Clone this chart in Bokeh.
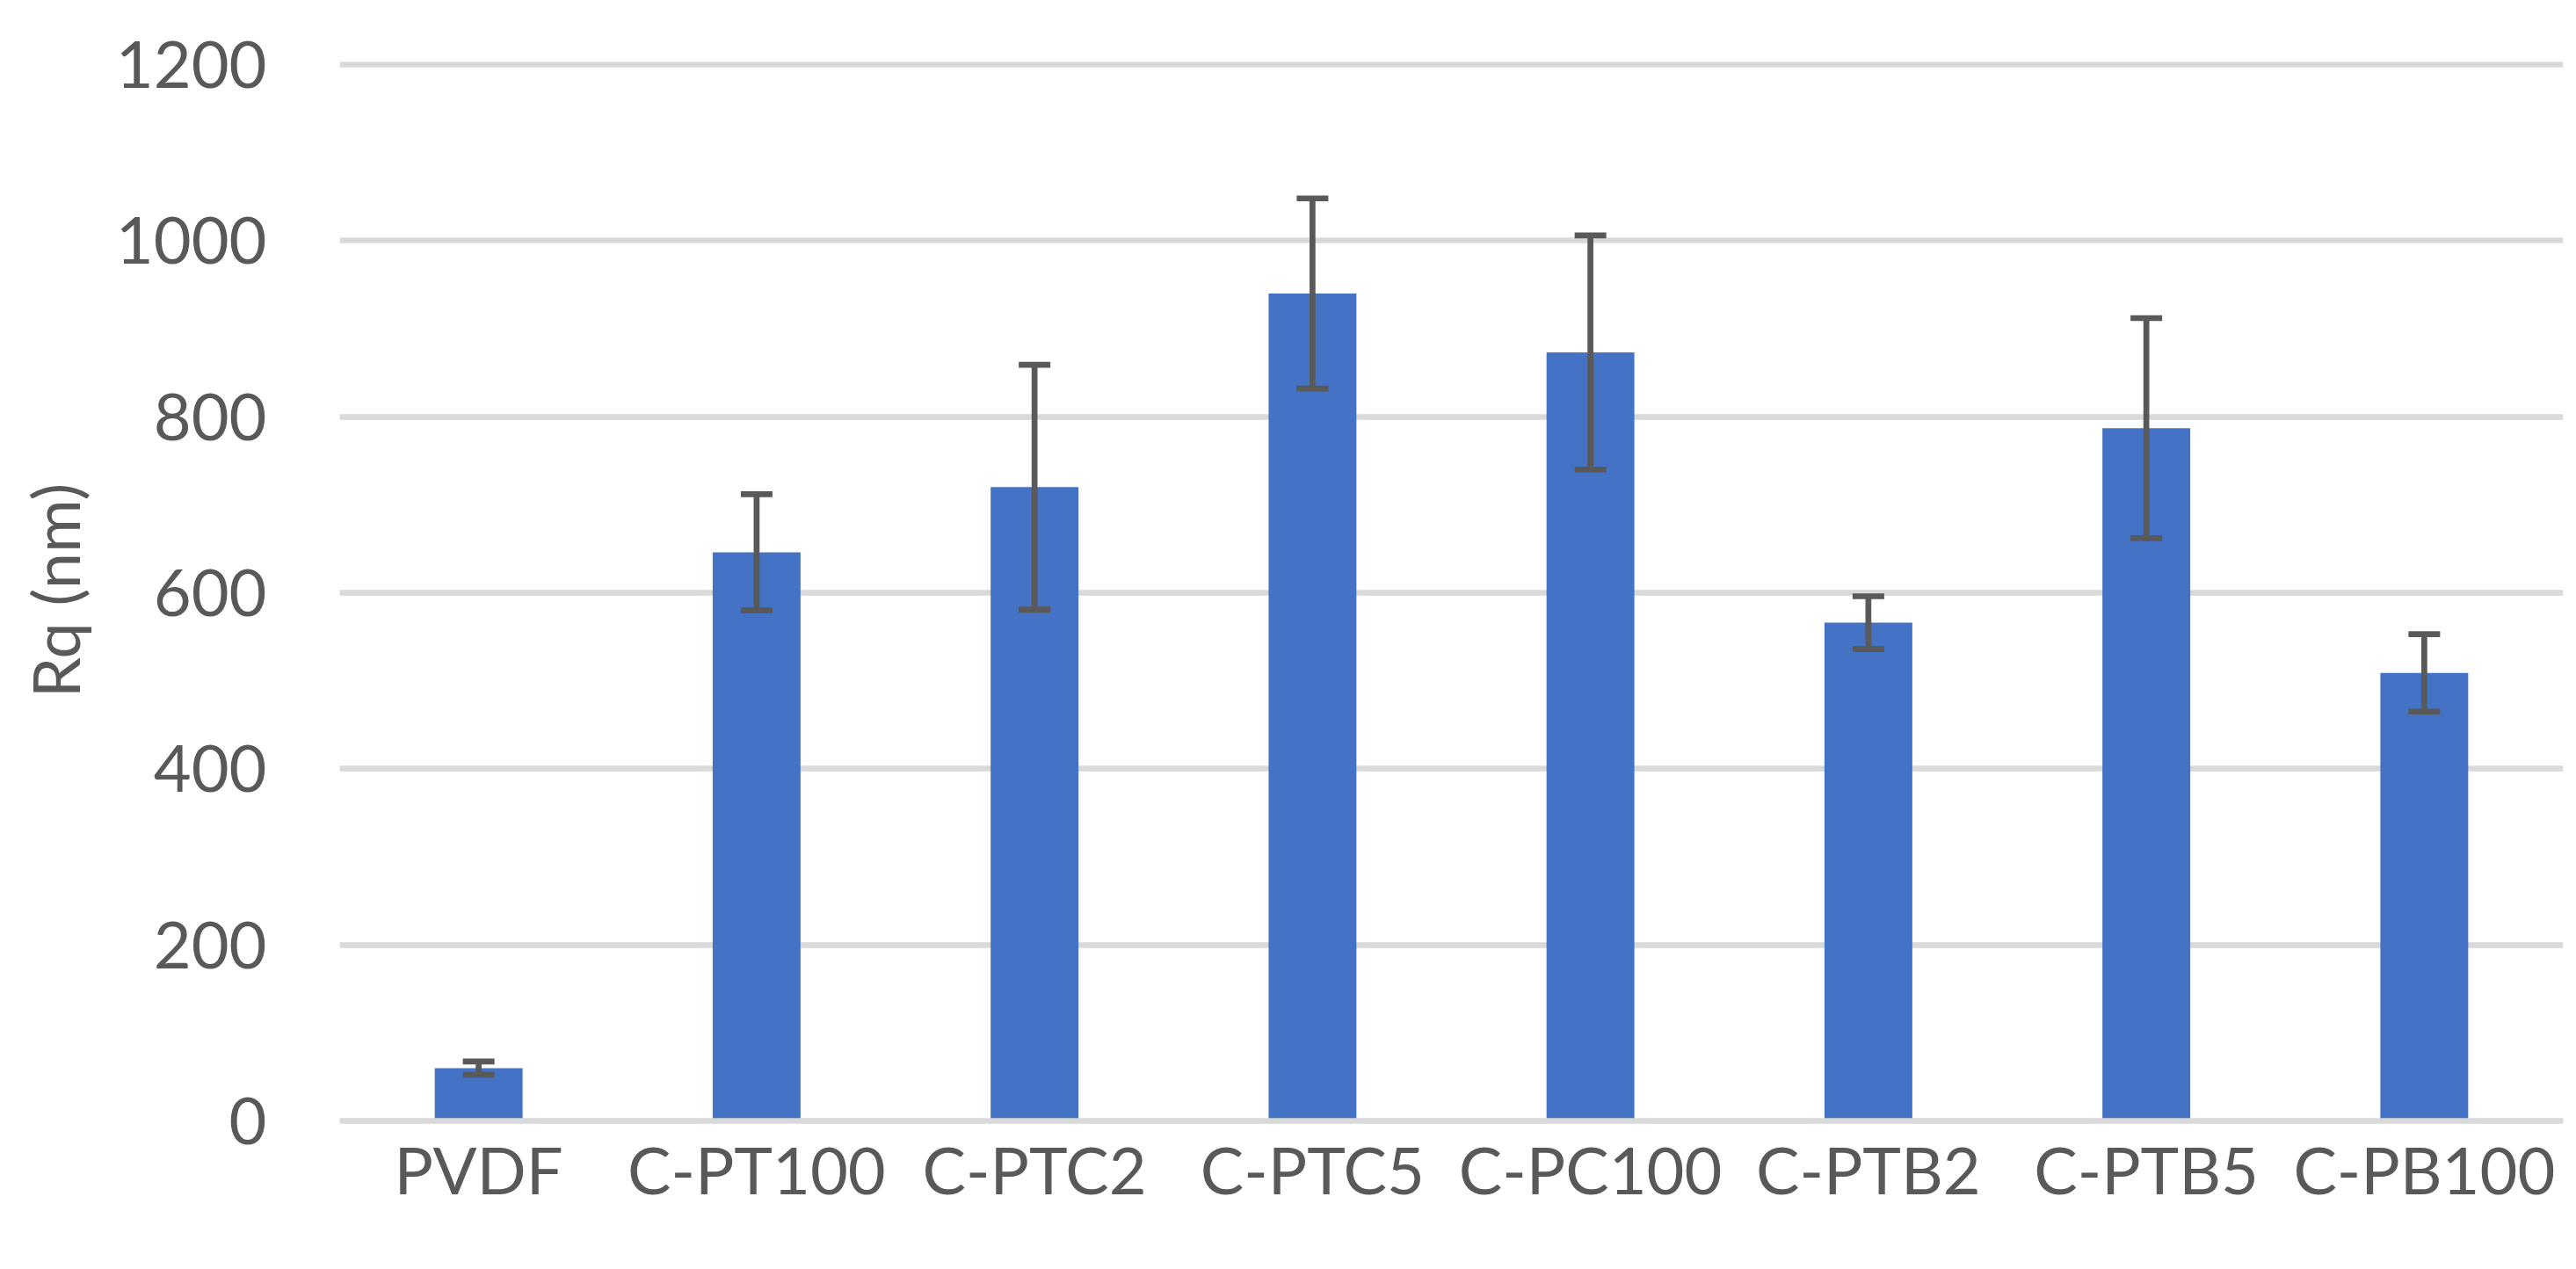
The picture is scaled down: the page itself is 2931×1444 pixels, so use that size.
from bokeh.plotting import figure
from bokeh.models import ColumnDataSource, Range1d, FactorRange, FixedTicker, Whisker, TeeHead
from bokeh.embed import file_html
from bokeh.resources import INLINE

categories = ["PVDF", "C-PT100", "C-PTC2", "C-PTC5", "C-PC100", "C-PTB2", "C-PTB5", "C-PB100"]
rq_values = [60, 646, 720, 940, 873, 566, 787, 509]
rq_errors = [7.5, 66, 139, 108, 133, 30, 125, 44]
y_ticks = [0, 200, 400, 600, 800, 1000, 1200]
y_label = "Rq (nm)"

upper = [v + e for v, e in zip(rq_values, rq_errors)]
lower = [v - e for v, e in zip(rq_values, rq_errors)]
src = ColumnDataSource(dict(cat=categories, val=rq_values, upper=upper, lower=lower))

TEXT = "#595959"
FONT = "Lato"

p = figure(
    width=2923, height=1428,
    x_range=FactorRange(*categories),
    y_range=Range1d(0, 1205),
    output_backend="svg", toolbar_location=None,
    min_border_left=386, min_border_right=7,
    min_border_top=68, min_border_bottom=153,
)
p.outline_line_color = None
p.background_fill_color = "white"
p.border_fill_color = "white"

p.vbar(x="cat", top="val", width=0.316, source=src, fill_color="#4472C4", line_color=None)

wh = Whisker(base="cat", upper="upper", lower="lower", source=src,
             line_color="#595959", line_width=6.7, level="overlay",
             upper_head=TeeHead(size=36, line_color="#595959", line_width=6.7),
             lower_head=TeeHead(size=36, line_color="#595959", line_width=6.7))
p.add_layout(wh)

# grid
p.xgrid.grid_line_color = None
p.ygrid.grid_line_color = "#D9D9D9"
p.ygrid.grid_line_width = 6.7
p.yaxis.ticker = FixedTicker(ticks=y_ticks)

# y axis
p.yaxis.axis_line_color = None
p.yaxis.major_tick_line_color = None
p.yaxis.minor_tick_line_color = None
p.yaxis.major_tick_out = 0
p.yaxis.major_tick_in = 0
p.yaxis.major_label_standoff = 83
p.yaxis.major_label_text_font = FONT
p.yaxis.major_label_text_font_size = "74px"
p.yaxis.major_label_text_color = TEXT
p.yaxis.axis_label = y_label
p.yaxis.axis_label_text_font = FONT
p.yaxis.axis_label_text_font_size = "74px"
p.yaxis.axis_label_text_font_style = "normal"
p.yaxis.axis_label_text_color = TEXT
p.yaxis.axis_label_standoff = 22

# x axis (acts as the zero line)
p.xaxis.axis_line_color = "#D9D9D9"
p.xaxis.axis_line_width = 6.7
p.xaxis.major_tick_line_color = None
p.xaxis.minor_tick_line_color = None
p.xaxis.major_tick_out = 0
p.xaxis.major_tick_in = 0
p.xaxis.major_label_standoff = 10
p.xaxis.major_label_text_font = FONT
p.xaxis.major_label_text_font_size = "74px"
p.xaxis.major_label_text_color = TEXT

open("out.html", "w").write(file_html(p, INLINE))
